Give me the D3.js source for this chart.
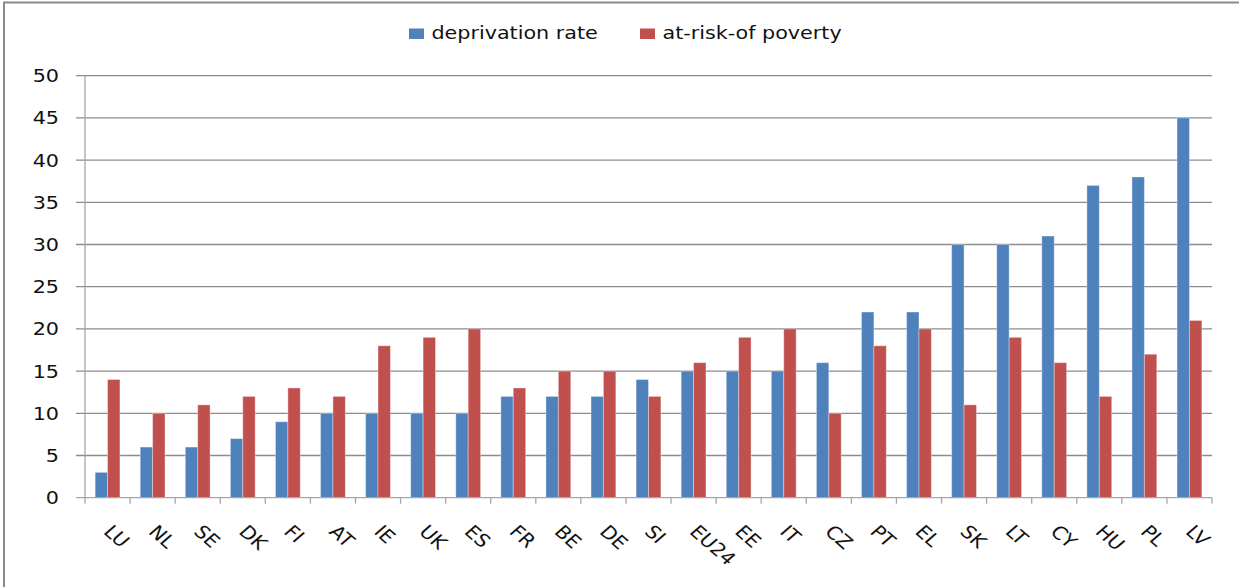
<!DOCTYPE html>
<html>
<head>
<meta charset="utf-8">
<script src="https://cdn.jsdelivr.net/npm/d3@7/dist/d3.min.js"></script>
<style>
  html, body { margin: 0; padding: 0; background: #fff; }
  svg { display: block; }
  text { font-family: "DejaVu Sans", Verdana, sans-serif; fill: #111; }
</style>
</head>
<body>
<svg id="chart" width="1239" height="587"></svg>
<script>
// Country codes, ordered by deprivation rate
const categories = ["LU","NL","SE","DK","FI","AT","IE","UK","ES","FR","BE","DE","SI",
  "EU24","EE","IT","CZ","PT","EL","SK","LT","CY","HU","PL","LV"];
// Share of population (%) in each measure
const deprivationRate = [3,6,6,7,9,10,10,10,10,12,12,12,14,15,15,15,16,22,22,30,30,31,37,38,45];
const atRiskOfPoverty = [14,10,11,12,13,12,18,19,20,13,15,15,12,16,19,20,10,18,20,11,19,16,12,17,21];
const seriesNames = ["deprivation rate", "at-risk-of poverty"];
const seriesColors = ["#4F81BD", "#C0504D"];
const yTicks = [0,5,10,15,20,25,30,35,40,45,50];

const svg = d3.select("#chart");
const stretch = 1.15;   // labels are drawn slightly wide
const fontSize = 18;

// Outer frame
svg.append("rect")
  .attr("x", 4).attr("y", 2.5)
  .attr("width", 1260).attr("height", 620)
  .attr("fill", "none").attr("stroke", "#8a8a8a").attr("stroke-width", 2);

const plot = { left: 85, right: 1212, top: 75.7, bottom: 497.7 };

const x = d3.scaleBand()
  .domain(categories)
  .range([plot.left, plot.right])
  .paddingInner(0.45).paddingOuter(0.225);
const xInner = d3.scaleBand()
  .domain([0, 1])
  .range([0, x.bandwidth()]);
const y = d3.scaleLinear().domain([0, 50]).range([plot.bottom, plot.top]);

// Horizontal gridlines with short ticks to the left of the axis
const grid = svg.append("g");
grid.selectAll("line")
  .data(yTicks.filter(d => d > 0))
  .join("line")
  .attr("x1", plot.left - 9).attr("x2", plot.right)
  .attr("y1", d => y(d)).attr("y2", d => y(d))
  .attr("stroke", "#8c8c8c").attr("stroke-width", 1.3);

// Y tick labels
svg.append("g").selectAll("text")
  .data(yTicks)
  .join("text")
  .attr("transform", d => `translate(${plot.left - 26},${y(d) + 6.5}) scale(${stretch},1)`)
  .attr("text-anchor", "end")
  .attr("font-size", fontSize)
  .text(d => d);

// Bars
const groups = svg.append("g").selectAll("g")
  .data(categories.map((c, i) => ({ c, vals: [deprivationRate[i], atRiskOfPoverty[i]] })))
  .join("g")
  .attr("transform", d => `translate(${x(d.c)},0)`);
groups.selectAll("rect")
  .data(d => d.vals.map((v, k) => ({ v, k })))
  .join("rect")
  .attr("x", d => xInner(d.k))
  .attr("width", xInner.bandwidth())
  .attr("y", d => y(d.v))
  .attr("height", d => y(0) - y(d.v))
  .attr("fill", d => seriesColors[d.k])
  .attr("stroke", "rgba(255,255,255,0.35)")
  .attr("stroke-width", 1);

// Axes lines
svg.append("line")
  .attr("x1", plot.left).attr("x2", plot.left)
  .attr("y1", plot.top).attr("y2", plot.bottom)
  .attr("stroke", "#a6a6a6").attr("stroke-width", 1.3);
svg.append("line")
  .attr("x1", plot.left - 9).attr("x2", plot.right)
  .attr("y1", plot.bottom).attr("y2", plot.bottom)
  .attr("stroke", "#a6a6a6").attr("stroke-width", 1.3);

// Category tick marks on band boundaries
const step = x.step();
const boundaries = d3.range(categories.length + 1).map(i => plot.left + i * step);
svg.append("g").selectAll("line")
  .data(boundaries)
  .join("line")
  .attr("x1", d => d).attr("x2", d => d)
  .attr("y1", plot.bottom).attr("y2", plot.bottom + 6)
  .attr("stroke", "#a6a6a6").attr("stroke-width", 1.3);

// Rotated category labels
svg.append("g").selectAll("text")
  .data(categories)
  .join("text")
  .attr("transform", d => `translate(${x(d) + x.bandwidth() / 2 - 5},${plot.bottom + 35}) scale(${stretch},1) rotate(45)`)
  .attr("text-anchor", "start")
  .attr("font-size", fontSize)
  .text(d => d);

// Legend
const legendItems = [
  { name: seriesNames[0], color: seriesColors[0], x: 409 },
  { name: seriesNames[1], color: seriesColors[1], x: 640 }
];
const legend = svg.append("g");
legend.selectAll("rect")
  .data(legendItems)
  .join("rect")
  .attr("x", d => d.x).attr("y", 28.5)
  .attr("width", 15).attr("height", 10.5)
  .attr("fill", d => d.color);
legend.selectAll("text")
  .data(legendItems)
  .join("text")
  .attr("transform", d => `translate(${d.x + 22.5},39) scale(${stretch},1)`)
  .attr("font-size", fontSize)
  .text(d => d.name);
</script>
</body>
</html>
